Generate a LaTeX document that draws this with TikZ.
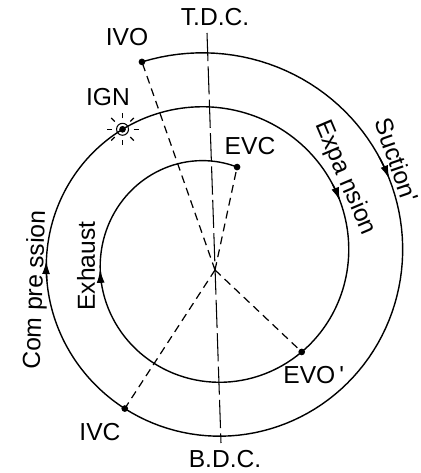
\documentclass[tikz,border=0pt]{standalone}
\usepackage{fontspec}
\setmainfont{Liberation Sans}
\usetikzlibrary{arrows.meta}

\begin{document}
\begin{tikzpicture}[
    x=0.02cm, y=0.02cm,
    lbl/.style    ={font=\fontsize{14}{16}\selectfont, inner sep=0pt},
    spiralline/.style={line width=0.8pt},
    flow/.style   ={spiralline, -{Latex[length=7.5pt,width=4.5pt]}},
    radial/.style ={line width=0.7pt, dash pattern=on 4.5pt off 3pt},
    centre/.style ={line width=0.6pt, dash pattern=on 16pt off 3pt},
    event/.style  ={circle, fill, inner sep=0pt, minimum size=3.8pt}]
    \useasboundingbox (0,0) rectangle (421,473);
    % spiral centre and crank centre
    \coordinate (o)   at (211,215);
    \coordinate (hub) at (215,203);
    % valve events on the spiral
    \foreach \ev/\ang in {ivo/-19.4, ivc/209.8, ign/325.5, evo/496, evc/736}
        \coordinate (\ev) at ({211+(205-0.15*\ang)*sin(\ang)},{215+(205-0.15*\ang)*cos(\ang)});
    % the four strokes
    \foreach \from/\to in {-19.4/209.8, 209.8/325.5, 325.5/496, 496/736}
        \draw[spiralline] plot[domain=\from:\to, samples=90]
            ({211+(205-0.15*\x)*sin(\x)},{215+(205-0.15*\x)*cos(\x)});
    % direction of rotation
    \foreach \s/\tip in {59/66, 262/269, 419/426, 617/624}
        \draw[flow] plot[domain=\s:\tip, samples=8]
            ({211+(205-0.15*\x)*sin(\x)},{215+(205-0.15*\x)*cos(\x)});
    % dead centres
    \node[lbl] (tdc) at (215,456) {T.D.C.};
    \node[lbl] (bdc) at (225,14)  {B.D.C.};
    \coordinate (tdcend) at (207,440);
    \coordinate (bdcend) at (221,30);
    \draw[centre] (tdcend) -- (bdcend);
    % crank positions
    \foreach \ev in {ivo, evc, evo, ivc}
        \draw[radial] (hub) -- (\ev);
    \foreach \ev in {ivo, evc, evo, ivc}
        \node[event] at (\ev) {};
    % spark
    \draw[line width=0.6pt] (ign) circle (3.4pt);
    \fill (ign) circle (1.9pt);
    \foreach \a in {0,45,...,315}
        \draw[line width=0.7pt] ([shift={(\a:11)}]ign) -- ([shift={(\a:16)}]ign);
    % labels
    \node[lbl] (ivolbl) at (127,436) {IVO};
    \node[lbl] (ignlbl) at (108,376) {IGN};
    \node[lbl] (evclbl) at (250,327) {EVC};
    \node[lbl, anchor=west] (evolbl) at (283,98) {EVO\,\textquotesingle};
    \node[lbl] (ivclbl) at (100,41)  {IVC};
    \node[lbl, rotate=-71] (suc) at (397,313) {Suction\textquotesingle};
    \node[lbl, rotate=-67] (exp) at (345,295) {Expa nsion};
    \node[lbl, rotate=90]  (exh) at (86,207)  {Exhaust};
    \node[lbl, rotate=88]  (com) at (36,183)  {Com pre ssion};
\end{tikzpicture}
\end{document}
